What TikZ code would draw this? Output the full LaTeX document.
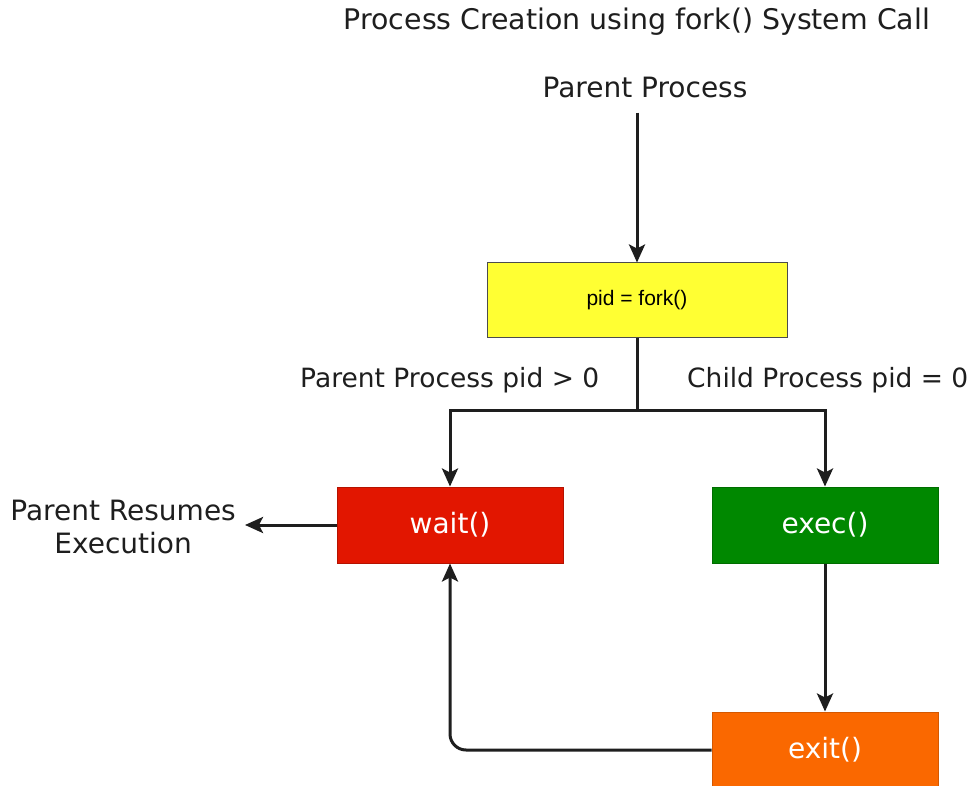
\documentclass[tikz,border=0pt]{standalone}
\usepackage{fontspec}
\setmainfont{DejaVu Sans}
\newfontfamily\helv{Liberation Sans}
\usetikzlibrary{arrows.meta}
\definecolor{yel}{RGB}{255,255,51}
\definecolor{redf}{RGB}{226,22,0}
\definecolor{grnf}{RGB}{0,136,0}
\definecolor{orf}{RGB}{250,104,0}
\definecolor{ink}{RGB}{30,30,30}
\begin{document}
\begin{tikzpicture}[x=1pt,y=-1pt,
  lbl/.style={font=\fontsize{28}{33}\selectfont, text=ink, inner sep=0},
  sublbl/.style={font=\fontsize{26.5}{31}\selectfont, text=ink, inner sep=0},
  box/.style={minimum width=226pt, minimum height=76pt, inner sep=0, font=\fontsize{28}{33}\selectfont, text=white, line width=1pt},
  conn/.style={line width=3pt, draw=ink, -{Stealth[length=18pt,width=16pt,inset=4pt]}},
  plain/.style={line width=3pt, draw=ink},
  ]
\useasboundingbox[fill=white] (0,0) rectangle (974,786);
\node[lbl, anchor=base, font=\fontsize{28.4}{33}\selectfont] (title) at (637,30) {Process Creation using fork() System Call};
\node[lbl, anchor=base] (parent) at (645,98) {Parent Process};
\node[box, fill=yel, draw=black!70, minimum width=300pt, minimum height=74pt, text=black, font=\helv\fontsize{21}{25}\selectfont] (fork) at (637,300) {pid = fork()};
\node[box, fill=redf, draw=redf!80!black] (wait) at (450,525) {wait()};
\node[box, fill=grnf, draw=grnf!80!black] (exec) at (825,525) {exec()};
\node[box, fill=orf, draw=orf!85!black] (exit) at (825,750) {exit()};
\node[sublbl, anchor=base west] (plbl) at (300,387) {Parent Process pid > 0};
\node[sublbl, anchor=base west] (clbl) at (687,387) {Child Process pid = 0};
\node[lbl, align=center, anchor=east] (res) at (236,527) {Parent Resumes\\Execution};
\coordinate (j) at (637,410);
\draw[conn] ([yshift=-14pt]fork.north |- parent.south) -- (fork.north);
\draw[plain] (fork.south) -- (j);
\draw[conn] (j) -| (wait.north);
\draw[conn] (j) -| (exec.north);
\draw[conn] (exec.south) -- (exit.north);
\draw[conn, rounded corners=16pt] (exit.west) -| (wait.south);
\draw[conn] (wait.west) -- ([xshift=9pt]wait.west -| res.east);
\end{tikzpicture}
\end{document}
